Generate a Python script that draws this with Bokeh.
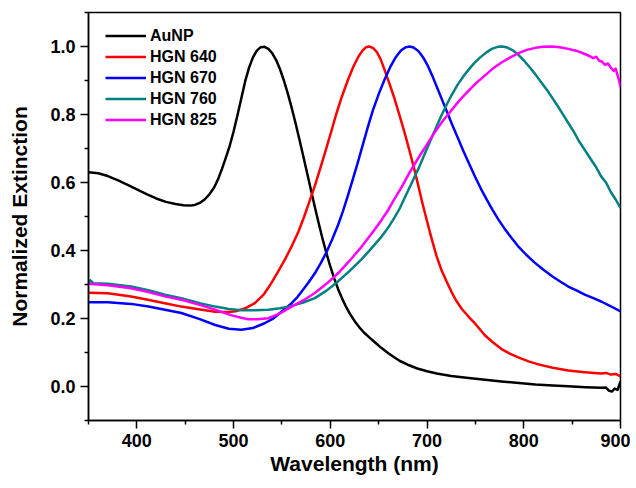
from bokeh.plotting import figure
from bokeh.models import Range1d, FixedTicker, PrintfTickFormatter
from bokeh.embed import file_html
from bokeh.resources import INLINE

# ---- data ----
aunp_wl = [350, 360, 370, 380, 390, 400, 410, 420, 430, 440, 448, 455, 460, 465, 470, 475, 480, 484, 488, 492,
           496, 500, 504, 508, 512, 516, 520, 524, 528, 532, 536, 540, 544, 548, 552, 556, 560, 564, 568, 572,
           576, 580, 584, 588, 592, 596, 600, 604, 608, 612, 616, 620, 625, 630, 635, 640, 646, 653, 660, 666,
           672, 680, 690, 700, 710, 725, 743, 760, 777, 795, 812, 830, 846, 864, 880, 885, 888, 891, 894, 897, 900]
aunp_val = [0.630, 0.627, 0.619, 0.607, 0.594, 0.580, 0.566, 0.553, 0.543, 0.537, 0.533, 0.532, 0.534, 0.540,
            0.550, 0.565, 0.586, 0.610, 0.640, 0.673, 0.708, 0.750, 0.798, 0.848, 0.898, 0.938, 0.968, 0.988,
            0.998, 0.999, 0.993, 0.980, 0.960, 0.933, 0.900, 0.862, 0.820, 0.775, 0.727, 0.678, 0.628, 0.578,
            0.528, 0.480, 0.434, 0.392, 0.353, 0.318, 0.287, 0.260, 0.236, 0.215, 0.193, 0.174, 0.158, 0.145,
            0.130, 0.113, 0.098, 0.086, 0.075, 0.064, 0.053, 0.045, 0.038, 0.031, 0.025, 0.020, 0.015, 0.010,
            0.006, 0.003, 0.001, -0.002, -0.004, -0.003, -0.012, -0.015, -0.006, -0.010, 0.015]

hgn640_wl = [350, 370, 394, 410, 429, 446, 467, 481, 495, 502, 512, 522, 531, 539, 546, 553, 560, 567, 573, 579,
             584, 590, 595, 601, 606, 612, 618, 624, 629, 633, 637, 640, 644, 648, 652, 656, 661, 666, 670, 674,
             678, 682, 687, 691, 695, 700, 705, 710, 715, 720, 725, 730, 736, 743, 750, 760, 768, 777, 786, 795,
             805, 815, 830, 846, 863, 880, 885, 890, 895, 900]
hgn640_val = [0.276, 0.274, 0.265, 0.256, 0.245, 0.235, 0.226, 0.220, 0.219, 0.221, 0.230, 0.245, 0.270, 0.304,
              0.338, 0.373, 0.412, 0.455, 0.500, 0.549, 0.590, 0.645, 0.692, 0.750, 0.800, 0.853, 0.900, 0.942,
              0.970, 0.987, 0.998, 1.000, 0.996, 0.984, 0.963, 0.932, 0.892, 0.850, 0.812, 0.774, 0.734, 0.692,
              0.637, 0.590, 0.542, 0.486, 0.432, 0.382, 0.342, 0.310, 0.280, 0.253, 0.228, 0.205, 0.184, 0.150,
              0.130, 0.110, 0.096, 0.085, 0.074, 0.065, 0.055, 0.047, 0.042, 0.038, 0.040, 0.035, 0.037, 0.030]

hgn670_wl = [350, 370, 394, 412, 429, 446, 465, 481, 495, 508, 520, 532, 540, 546, 552, 560, 566, 572, 578, 584,
             590, 596, 602, 608, 613, 618, 623, 628, 634, 639, 644, 650, 656, 662, 668, 673, 678, 682, 686, 691,
             696, 701, 706, 711, 716, 721, 726, 732, 738, 744, 750, 756, 762, 768, 774, 780, 787, 794, 802, 811,
             820, 829, 838, 846, 855, 863, 872, 880, 890, 900]
hgn670_val = [0.248, 0.248, 0.243, 0.235, 0.226, 0.216, 0.198, 0.181, 0.170, 0.167, 0.172, 0.186, 0.198, 0.212,
              0.226, 0.245, 0.263, 0.285, 0.308, 0.333, 0.362, 0.395, 0.433, 0.475, 0.515, 0.560, 0.607, 0.655,
              0.715, 0.765, 0.812, 0.860, 0.902, 0.940, 0.970, 0.988, 0.998, 1.000, 0.997, 0.987, 0.968, 0.942,
              0.910, 0.875, 0.840, 0.805, 0.770, 0.730, 0.690, 0.652, 0.615, 0.580, 0.548, 0.518, 0.490, 0.465,
              0.438, 0.413, 0.389, 0.365, 0.344, 0.325, 0.308, 0.294, 0.282, 0.270, 0.260, 0.250, 0.236, 0.221]

hgn760_wl = [350, 352, 355, 370, 394, 412, 429, 446, 465, 481, 495, 508, 522, 536, 548, 560, 572, 584, 596, 608,
             620, 632, 642, 653, 660, 666, 672, 678, 684, 691, 697, 703, 708, 714, 720, 725, 731, 737, 743, 749,
             755, 761, 767, 773, 778, 783, 789, 795, 801, 807, 812, 818, 824, 829, 835, 841, 846, 852, 857, 863,
             869, 875, 880, 885, 890, 895, 900]
hgn760_val = [0.303, 0.312, 0.304, 0.302, 0.294, 0.283, 0.270, 0.260, 0.245, 0.235, 0.228, 0.224, 0.224, 0.226,
              0.230, 0.237, 0.247, 0.260, 0.282, 0.309, 0.340, 0.373, 0.405, 0.441, 0.468, 0.495, 0.525, 0.562,
              0.598, 0.640, 0.680, 0.720, 0.753, 0.792, 0.827, 0.855, 0.885, 0.910, 0.932, 0.952, 0.968, 0.982,
              0.993, 0.999, 1.000, 0.997, 0.988, 0.974, 0.956, 0.936, 0.918, 0.895, 0.872, 0.851, 0.825, 0.798,
              0.775, 0.748, 0.722, 0.696, 0.670, 0.644, 0.618, 0.600, 0.572, 0.550, 0.525]

hgn825_wl = [350, 370, 394, 412, 429, 446, 465, 481, 497, 508, 515, 525, 536, 548, 560, 572, 584, 596, 608, 620,
             632, 642, 653, 660, 665, 674, 682, 691, 700, 708, 716, 725, 734, 743, 751, 760, 768, 777, 786, 794,
             803, 812, 820, 829, 837, 846, 855, 863, 868, 872, 875, 878, 881, 884, 887, 890, 893, 895, 897, 899, 900]
hgn825_val = [0.302, 0.298, 0.289, 0.278, 0.265, 0.255, 0.240, 0.226, 0.210, 0.202, 0.198, 0.198, 0.201, 0.215,
              0.235, 0.253, 0.275, 0.302, 0.333, 0.370, 0.410, 0.447, 0.490, 0.520, 0.545, 0.588, 0.630, 0.672,
              0.712, 0.748, 0.780, 0.812, 0.843, 0.870, 0.893, 0.915, 0.935, 0.953, 0.968, 0.980, 0.990, 0.996,
              0.999, 1.000, 0.998, 0.993, 0.987, 0.978, 0.972, 0.966, 0.970, 0.958, 0.955, 0.946, 0.950, 0.938,
              0.928, 0.935, 0.915, 0.895, 0.880]

series_names = ["AuNP", "HGN 640", "HGN 670", "HGN 760", "HGN 825"]
series_colors = ["#000000", "#ff0000", "#0000ff", "#008080", "#ff00ff"]

x_major_ticks = [400, 500, 600, 700, 800, 900]
x_minor_ticks = [350, 450, 550, 650, 750, 850]
y_major_ticks = [0.0, 0.2, 0.4, 0.6, 0.8, 1.0]
y_minor_ticks = [-0.1, 0.1, 0.3, 0.5, 0.7, 0.9, 1.1]

x_title = "Wavelength (nm)"
y_title = "Normalized Extinction"

FONT = "Liberation Sans"

p = figure(frame_width=532, frame_height=408,
           min_border_left=88, min_border_right=10, min_border_top=12, min_border_bottom=62,
           x_range=Range1d(350, 900), y_range=Range1d(-0.1, 1.1),
           output_backend="svg", toolbar_location=None)

p.xgrid.visible = False
p.ygrid.visible = False
p.outline_line_color = "black"
p.outline_line_width = 1.5
p.background_fill_color = "white"
p.border_fill_color = "white"

xs = [aunp_wl, hgn640_wl, hgn670_wl, hgn760_wl, hgn825_wl]
ys = [aunp_val, hgn640_val, hgn670_val, hgn760_val, hgn825_val]
for xv, yv, name, col in zip(xs, ys, series_names, series_colors):
    p.line(xv, yv, line_color=col, line_width=2.5, line_join="round", legend_label=name)

for ax in (p.xaxis[0], p.yaxis[0]):
    ax.axis_line_color = "black"
    ax.axis_line_width = 1.5
    ax.major_tick_line_color = "black"
    ax.major_tick_line_width = 1.5
    ax.minor_tick_line_color = "black"
    ax.minor_tick_line_width = 1.5
    ax.major_tick_in = 0
    ax.major_tick_out = 8
    ax.minor_tick_in = 0
    ax.minor_tick_out = 4
    ax.major_label_text_font = FONT
    ax.major_label_text_font_style = "bold"
    ax.major_label_text_font_size = "18px"
    ax.major_label_text_color = "black"
    ax.axis_label_text_font = FONT
    ax.axis_label_text_font_style = "bold"
    ax.axis_label_text_font_size = "21px"
    ax.axis_label_text_color = "black"
    ax.major_label_standoff = 5

p.xaxis[0].ticker = FixedTicker(ticks=x_major_ticks, minor_ticks=x_minor_ticks)
p.yaxis[0].ticker = FixedTicker(ticks=y_major_ticks, minor_ticks=y_minor_ticks)
p.yaxis[0].formatter = PrintfTickFormatter(format="%.1f")
p.xaxis[0].axis_label = x_title
p.yaxis[0].axis_label = y_title
p.xaxis[0].axis_label_standoff = 2
p.yaxis[0].axis_label_standoff = 16

lg = p.legend[0]
lg.location = (17, 290)
lg.margin = 0
lg.padding = 0
lg.spacing = 0
lg.label_height = 21
lg.glyph_height = 21
lg.glyph_width = 41
lg.label_standoff = 4
lg.label_text_font = FONT
lg.label_text_font_style = "bold"
lg.label_text_font_size = "16px"
lg.label_text_color = "black"
lg.border_line_alpha = 0
lg.background_fill_alpha = 0

open("out.html", "w").write(file_html(p, INLINE))
